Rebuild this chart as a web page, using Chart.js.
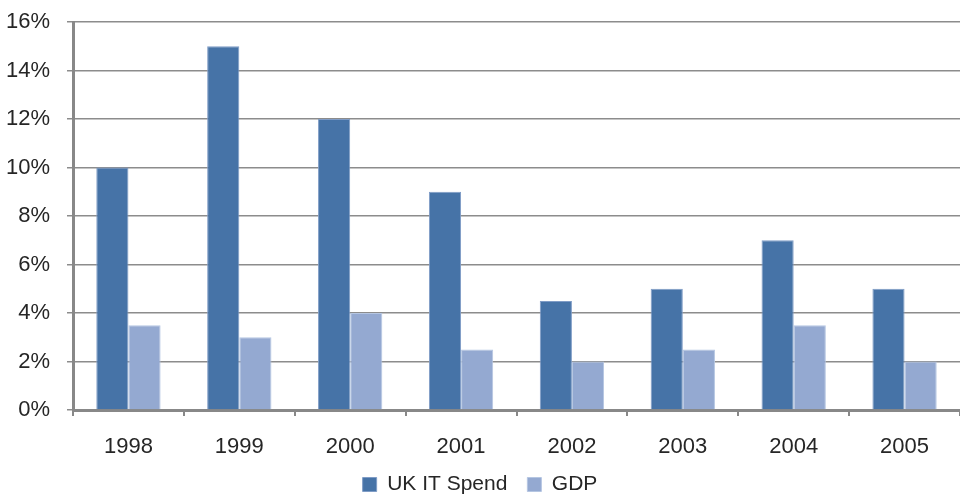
<!DOCTYPE html>
<html><head><meta charset="utf-8">
<script src="https://cdn.jsdelivr.net/npm/chart.js@4/dist/chart.umd.min.js"></script>
<style>html,body{margin:0;padding:0;background:#fff;}canvas{display:block;}</style>
</head><body>
<canvas id="c" width="960" height="495"></canvas>
<script>
const years = ['1998','1999','2000','2001','2002','2003','2004','2005'];
const ukItSpend = [10, 15, 12, 9, 4.5, 5, 7, 5];
const gdp = [3.5, 3, 4, 2.5, 2, 2.5, 3.5, 2];
const FONT = "'Liberation Sans', Arial, sans-serif";

// fix legend height so the legend sits close to the bottom edge
const LegendCls = Chart.registry.plugins.get('legend')._element;
const origFit = LegendCls.prototype.fit;
LegendCls.prototype.fit = function () { origFit.call(this); this.height = 41; };

new Chart(document.getElementById('c'), {
  type: 'bar',
  data: {
    labels: years,
    datasets: [
      {label: 'UK IT Spend', data: ukItSpend, backgroundColor: '#4673A7', borderColor: '#7F9CC6', borderWidth: 1},
      {label: 'GDP', data: gdp, backgroundColor: '#94A9D1', borderColor: '#B5C6E2', borderWidth: 1}
    ]
  },
  options: {
    responsive: false,
    animation: false,
    devicePixelRatio: 1,
    layout: {padding: {top: 22, right: 0, left: 0, bottom: 0}},
    datasets: {bar: {categoryPercentage: 0.58, barPercentage: 1}},
    plugins: {
      legend: {
        position: 'bottom',
        labels: {font: {family: FONT, size: 21}, color: '#262626', boxWidth: 14, boxHeight: 14, padding: 20}
      },
      tooltip: {enabled: false}
    },
    scales: {
      x: {
        afterFit: s => { s.height = 44; },
        grid: {drawOnChartArea: false, drawTicks: true, tickLength: 6, color: '#888', lineWidth: 2},
        border: {color: '#888', width: 3},
        ticks: {font: {family: FONT, size: 22}, color: '#262626', padding: 18}
      },
      y: {
        min: 0, max: 16,
        afterFit: s => { s.width = 73; s.paddingTop = 0; s.paddingBottom = 0; },
        grid: {color: '#8c8c8c', lineWidth: 1.5, tickLength: 6},
        border: {color: '#888', width: 3},
        ticks: {stepSize: 2, font: {family: FONT, size: 22}, color: '#262626', padding: 17, callback: v => v + '%'}
      }
    }
  }
});
</script>
</body></html>
